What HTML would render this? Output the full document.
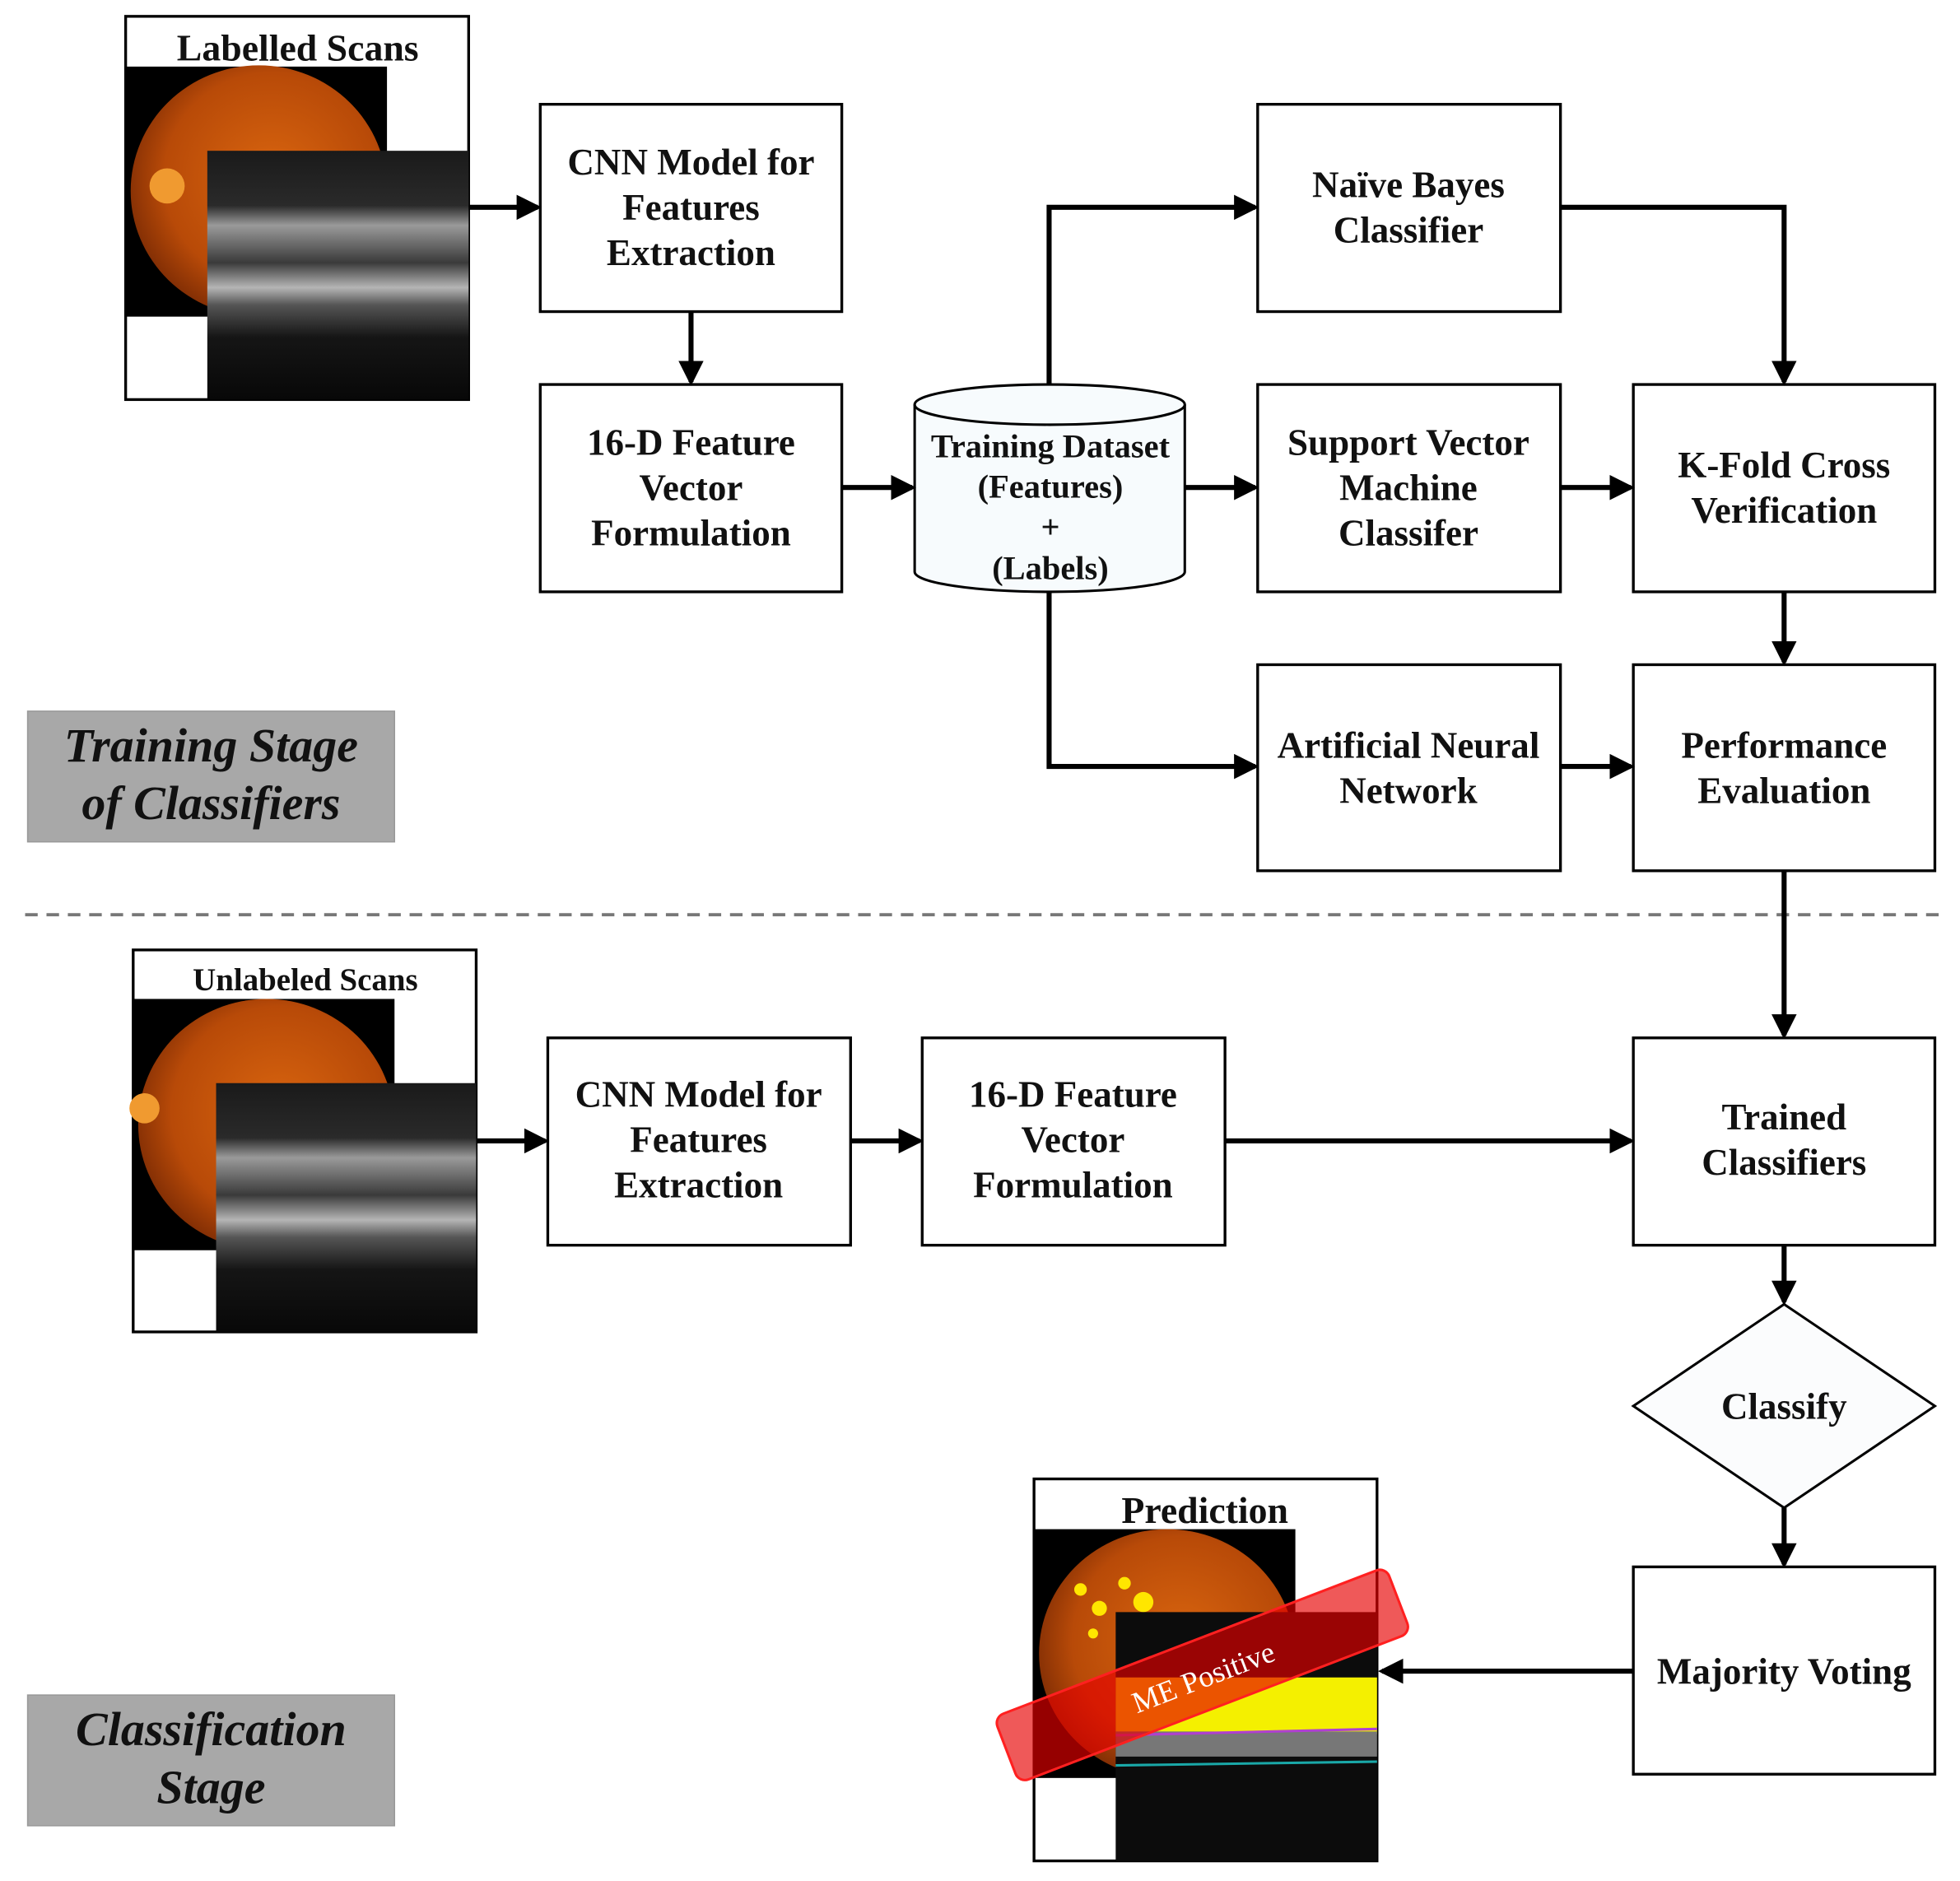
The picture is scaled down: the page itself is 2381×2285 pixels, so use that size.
<!DOCTYPE html>
<html><head><meta charset="utf-8"><style>
html,body{margin:0;padding:0;background:#fff;width:2381px;height:2285px;overflow:hidden}
svg{display:block}
text{font-family:"Liberation Serif",serif;font-weight:bold;fill:#111;text-anchor:middle}
</style></head><body>
<svg width="2381" height="2285" viewBox="0 0 1560 1497" preserveAspectRatio="none" xmlns="http://www.w3.org/2000/svg">
<defs>
<marker id="ah" markerWidth="5" markerHeight="5" refX="4.2" refY="2.5" orient="auto" markerUnits="strokeWidth">
<path d="M0,0 L5,2.5 L0,5 z" fill="#000"/></marker>
<radialGradient id="fund" cx="0.55" cy="0.45" r="0.6"><stop offset="0" stop-color="#d9650f"/><stop offset="0.7" stop-color="#b84a08"/><stop offset="1" stop-color="#7a2a04"/></radialGradient>
<linearGradient id="oct" x1="0" y1="0" x2="0" y2="1"><stop offset="0" stop-color="#1a1a1a"/><stop offset="0.22" stop-color="#2a2a2a"/><stop offset="0.3" stop-color="#9a9a9a"/><stop offset="0.45" stop-color="#3a3a3a"/><stop offset="0.55" stop-color="#b5b5b5"/><stop offset="0.62" stop-color="#555"/><stop offset="0.75" stop-color="#151515"/><stop offset="1" stop-color="#080808"/></linearGradient>
</defs>
<g stroke="#000" stroke-width="2.2" fill="#fff">
<rect x="100" y="13" width="273" height="305"/>
<rect x="430" y="83" width="240" height="165"/>
<rect x="430" y="306" width="240" height="165"/>
<rect x="1001" y="83" width="241" height="165"/>
<rect x="1001" y="306" width="241" height="165"/>
<rect x="1001" y="529" width="241" height="164"/>
<rect x="1300" y="306" width="240" height="165"/>
<rect x="1300" y="529" width="240" height="164"/>
<rect x="106" y="756" width="273" height="304"/>
<rect x="436" y="826" width="241" height="165"/>
<rect x="734" y="826" width="241" height="165"/>
<rect x="1300" y="826" width="240" height="165"/>
<rect x="1300" y="1247" width="240" height="165"/>
<rect x="823" y="1177" width="273" height="304"/>
</g>
<polygon points="1420,1038 1540,1119 1420,1200 1300,1119" fill="#fbfcfd" stroke="#000" stroke-width="2"/>
<path d="M728,322 L728,455 A107.5,16 0 0 0 943,455 L943,322" fill="#f7fbfd" stroke="#000" stroke-width="2"/>
<ellipse cx="835.5" cy="322" rx="107.5" ry="16" fill="#f7fbfd" stroke="#000" stroke-width="2"/>
<rect x="100" y="53" width="208" height="199" fill="#000"/>
<ellipse cx="206" cy="152" rx="102" ry="100" fill="url(#fund)"/>
<circle cx="133" cy="148" r="14" fill="#f09a30"/>
<rect x="165" y="120" width="208" height="198" fill="url(#oct)"/>
<rect x="106" y="795" width="208" height="200" fill="#000"/>
<ellipse cx="212" cy="895" rx="102" ry="100" fill="url(#fund)"/>
<circle cx="115" cy="882" r="12" fill="#f09a30"/>
<rect x="172" y="862" width="207" height="198" fill="url(#oct)"/>
<rect x="823" y="1217" width="208" height="198" fill="#000"/>
<ellipse cx="929" cy="1316" rx="102" ry="99" fill="url(#fund)"/>
<g fill="#ffe600"><circle cx="860" cy="1265" r="5"/><circle cx="875" cy="1280" r="6"/><circle cx="895" cy="1260" r="5"/><circle cx="910" cy="1275" r="8"/><circle cx="870" cy="1300" r="4"/><circle cx="900" cy="1300" r="5"/></g>
<rect x="888" y="1283" width="208" height="198" fill="#0c0c0c"/>
<rect x="888" y="1335" width="208" height="45" fill="#f4f000"/>
<rect x="888" y="1378" width="208" height="20" fill="#777"/>
<line x1="888" y1="1405" x2="1096" y2="1402" stroke="#1aa8a8" stroke-width="2"/>
<line x1="888" y1="1381" x2="1096" y2="1376" stroke="#b040d0" stroke-width="2"/>
<g transform="rotate(-21 957 1333)"><rect x="790" y="1305" width="334" height="56" rx="8" fill="rgba(230,0,0,0.65)" stroke="#ff2020" stroke-width="2"/>
<text x="957" y="1343" style="fill:#fff;font-weight:normal;font-size:24px">ME Positive</text></g>
<rect x="22" y="566" width="292" height="104" fill="#a8a8a8" stroke="#999"/>
<rect x="22" y="1349" width="292" height="104" fill="#a8a8a8" stroke="#999"/>
<g style="font-style:italic;font-size:38px"><text x="168" y="606">Training Stage</text><text x="168" y="652">of Classifiers</text>
<text x="168" y="1389">Classification</text><text x="168" y="1435">Stage</text></g>
<line x1="20" y1="728" x2="1545" y2="728" stroke="#777" stroke-width="2.5" stroke-dasharray="10,7"/>
<g stroke="#000" stroke-width="4" fill="none" marker-end="url(#ah)">
<path d="M373,165 H428"/>
<path d="M550,248 V304"/>
<path d="M670,388 H726"/>
<path d="M835,306 V165 H999"/>
<path d="M943,388 H999"/>
<path d="M835,471 V610 H999"/>
<path d="M1242,165 H1420 V304"/>
<path d="M1242,388 H1298"/>
<path d="M1420,471 V527"/>
<path d="M1242,610 H1298"/>
<path d="M1420,693 V824"/>
<path d="M379,908 H434"/>
<path d="M677,908 H732"/>
<path d="M975,908 H1298"/>
<path d="M1420,991 V1036"/>
<path d="M1420,1200 V1245"/>
<path d="M1300,1330 H1100"/>
</g>
<g style="font-size:29.5px">
<text x="237" y="48" style="font-size:30px">Labelled Scans</text>
<text x="243" y="788" style="font-size:25.5px">Unlabeled Scans</text>
<text x="959" y="1212" style="font-size:30px">Prediction</text>
<text x="550" y="139">CNN Model for</text><text x="550" y="175">Features</text><text x="550" y="211">Extraction</text>
<text x="550" y="362">16-D Feature</text><text x="550" y="398">Vector</text><text x="550" y="434">Formulation</text>
<text x="1121" y="157">Naïve Bayes</text><text x="1121" y="193">Classifier</text>
<text x="1121" y="362">Support Vector</text><text x="1121" y="398">Machine</text><text x="1121" y="434">Classifer</text>
<text x="1121" y="603">Artificial Neural</text><text x="1121" y="639">Network</text>
<text x="1420" y="380">K-Fold Cross</text><text x="1420" y="416">Verification</text>
<text x="1420" y="603">Performance</text><text x="1420" y="639">Evaluation</text>
<text x="556" y="881">CNN Model for</text><text x="556" y="917">Features</text><text x="556" y="953">Extraction</text>
<text x="854" y="881">16-D Feature</text><text x="854" y="917">Vector</text><text x="854" y="953">Formulation</text>
<text x="1420" y="899">Trained</text><text x="1420" y="935">Classifiers</text>
<text x="1420" y="1129">Classify</text>
<text x="1420" y="1340">Majority Voting</text>
</g>
<g style="font-size:26.5px">
<text x="836" y="364">Training Dataset</text><text x="836" y="396">(Features)</text><text x="836" y="428">+</text><text x="836" y="461">(Labels)</text>
</g>
</svg>
</body></html>
